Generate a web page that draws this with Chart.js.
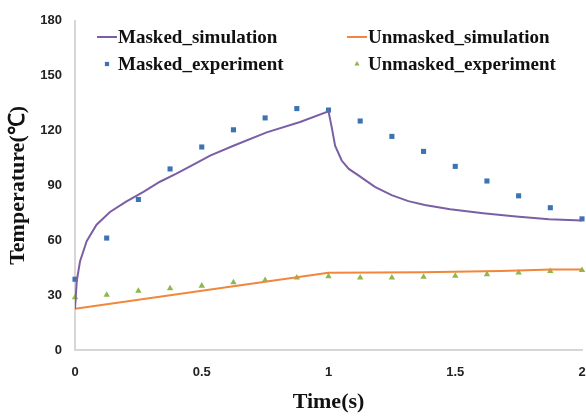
<!DOCTYPE html>
<html lang="en">
<head>
  <meta charset="UTF-8">
  <title>Temperature vs Time</title>
  <script src="https://cdn.jsdelivr.net/npm/chart.js"></script>
  <style>
    html, body { margin: 0; padding: 0; background: #fff; }
    #wrap { width: 586px; height: 417px; }
  </style>
</head>
<body>
<div id="wrap"><canvas id="tempChart"></canvas></div>
<script>
// experiment sampling times (s)
const expTime = [0, 0.125, 0.25, 0.375, 0.5, 0.625, 0.75, 0.875, 1, 1.125, 1.25, 1.375, 1.5, 1.625, 1.75, 1.875, 2];
const maskedExp = [38.7, 61.2, 82.3, 99, 111, 120.4, 126.9, 132, 131.2, 125.2, 116.8, 108.6, 100.4, 92.4, 84.3, 77.8, 71.7];
const unmaskedExp = [28.8, 30.1, 32.3, 33.7, 35.1, 36.9, 38.2, 39.6, 40.2, 39.6, 39.6, 40, 40.5, 41.4, 42.3, 43.1, 43.6];

// simulation curves
const maskedSimTime = [0, 0.007, 0.02, 0.046, 0.085, 0.138, 0.2, 0.27, 0.335, 0.4, 0.467, 0.533, 0.625, 0.756, 0.888, 1,
  1.013, 1.026, 1.052, 1.08, 1.118, 1.183, 1.249, 1.315, 1.38, 1.48, 1.61, 1.74, 1.87, 2];
const maskedSim = [22.5, 37.8, 48.6, 59.5, 68.5, 75.5, 81, 86.5, 92, 96.4, 101.3, 106.3, 111.7, 119, 124.7, 130.5,
  121.6, 111.7, 103.6, 99, 95.5, 89.2, 84.7, 81.4, 79.3, 77, 74.8, 73, 71.5, 70.8];
const unmaskedSimTime = [0, 1, 1.37, 1.68, 1.88, 2];
const unmaskedSim = [22.5, 42.3, 42.5, 43.2, 44, 44];

const xTicks = [0, 0.5, 1, 1.5, 2];
const yTicks = [0, 30, 60, 90, 120, 150, 180];

const pts = (xs, ys) => xs.map((x, i) => ({ x, y: ys[i] }));

const tickFont = { family: "'Liberation Sans', Arial, sans-serif", size: 13, weight: 'bold' };
const titleFont = { family: "'Liberation Serif', 'Times New Roman', serif", weight: 'bold', size: 22 };

// 2x2 legend drawn inside the top of the plot
const cornerLegend = {
  id: 'cornerLegend',
  afterDraw(chart) {
    const { ctx, chartArea } = chart;
    const slots = [[0, 22, 37], [2, 22, 64], [1, 272, 37], [3, 272, 64]];
    ctx.save();
    ctx.font = "bold 19px 'Liberation Serif', 'Times New Roman', serif";
    ctx.textBaseline = 'middle';
    slots.forEach(([i, dx, y]) => {
      const ds = chart.data.datasets[i];
      const x0 = chartArea.left + dx;
      if (ds.showLine) {
        ctx.strokeStyle = ds.borderColor;
        ctx.lineWidth = 2;
        ctx.beginPath();
        ctx.moveTo(x0, y);
        ctx.lineTo(x0 + 20, y);
        ctx.stroke();
      } else {
        ctx.fillStyle = ds.backgroundColor;
        ctx.strokeStyle = ds.borderColor;
        Chart.helpers.drawPoint(ctx, { pointStyle: ds.pointStyle, radius: ds.pointRadius - 0.6, rotation: 0, borderWidth: 0 }, x0 + 10, y);
      }
      ctx.fillStyle = '#111';
      ctx.fillText(ds.label, x0 + 21, y + 1);
    });
    ctx.restore();
  }
};

new Chart(document.getElementById('tempChart'), {
  type: 'scatter',
  data: {
    datasets: [
      { label: 'Masked_simulation', data: pts(maskedSimTime, maskedSim), showLine: true, borderColor: '#7b5fa6', backgroundColor: '#7b5fa6', borderWidth: 2, pointRadius: 0, tension: 0 },
      { label: 'Unmasked_simulation', data: pts(unmaskedSimTime, unmaskedSim), showLine: true, borderColor: '#f0873a', backgroundColor: '#f0873a', borderWidth: 2, pointRadius: 0, tension: 0 },
      { label: 'Masked_experiment', data: pts(expTime, maskedExp), pointStyle: 'rect', pointRadius: 3.6, backgroundColor: '#3c73b3', borderColor: '#3c73b3', borderWidth: 0, clip: false },
      { label: 'Unmasked_experiment', data: pts(expTime, unmaskedExp), pointStyle: 'triangle', pointRadius: 3.7, backgroundColor: '#8db84a', borderColor: '#8db84a', borderWidth: 0, clip: false }
    ]
  },
  options: {
    responsive: true,
    maintainAspectRatio: false,
    animation: false,
    layout: { padding: { top: 17, right: 4, left: 0, bottom: 0 } },
    plugins: { legend: { display: false }, tooltip: { enabled: false } },
    scales: {
      x: {
        type: 'linear', min: 0, max: 2,
        afterBuildTicks: s => { s.ticks = xTicks.map(v => ({ value: v })); },
        afterFit: s => { s.height = 67; s.paddingLeft = 0; s.paddingRight = 0; },
        ticks: { font: tickFont, color: '#222', padding: 15, callback: v => String(v) },
        grid: { display: false, drawTicks: false },
        border: { color: '#d6d6d6', width: 2 },
        title: { display: true, text: 'Time(s)', font: titleFont, color: '#111', padding: { top: 0, bottom: 1 } }
      },
      y: {
        min: 0, max: 180,
        afterBuildTicks: s => { s.ticks = yTicks.map(v => ({ value: v })); },
        afterFit: s => { s.width = 75; },
        ticks: { font: tickFont, color: '#222', padding: 13 },
        grid: { display: false, drawTicks: false },
        border: { color: '#d6d6d6', width: 2 },
        title: { display: true, text: 'Temperature(℃)', font: titleFont, color: '#111', padding: { top: 5, bottom: 0 } }
      }
    }
  },
  plugins: [cornerLegend]
});
</script>
</body>
</html>
